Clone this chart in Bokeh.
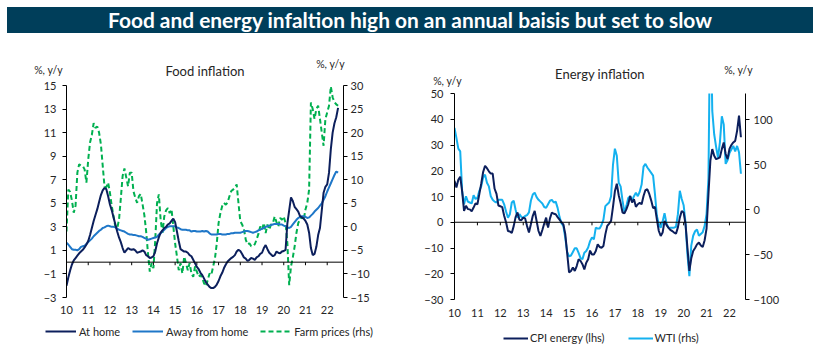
from bokeh.plotting import figure
from bokeh.models import Range1d, LinearAxis, FixedTicker, Span, Label, Legend, LegendItem, Div
from bokeh.layouts import column, row
from bokeh.embed import file_html
from bokeh.resources import INLINE

TITLE = "Food and energy infaltion high on an annual baisis but set to slow"
FONT = "Lato"

# ---------------- data (monthly, Jan 2010 - Jul 2022) ----------------
start_year = 2010
years = list(range(2010, 2023))
tick_labels = ["10", "11", "12", "13", "14", "15", "16", "17", "18", "19", "20", "21", "22"]

food_at_home = [
    -2.0, -1.3, -0.7, -0.2, 0.15, 0.35, 0.55, 0.75, 0.9, 1.05, 1.25, 1.5,
    1.8, 2.3, 2.9, 3.5, 4.0, 4.5, 5.1, 5.7, 6.1, 6.3, 6.2, 5.6,
    4.9, 4.4, 3.8, 3.2, 2.6, 2.1, 1.7, 1.2, 0.8, 1.0, 1.2, 1.1,
    1.05, 1.1, 1.0, 0.8, 0.85, 0.9, 1.0, 0.9, 0.6, 0.5, 0.35, 0.4,
    0.5, 0.9, 1.6, 2.1, 2.5, 2.7, 2.9, 3.0, 3.2, 3.3, 3.5, 3.7,
    3.4, 2.6, 1.8, 1.1, 1.0, 0.9, 0.9, 0.8, 0.6, 0.5, 0.2, -0.1,
    -0.4, -0.6, -0.9, -1.1, -1.4, -1.7, -1.9, -2.1, -2.2, -2.2, -2.1, -1.9,
    -1.6, -1.2, -0.9, -0.5, -0.2, 0.05, 0.2, 0.35, 0.45, 0.6, 0.9, 1.05,
    0.95, 0.7, 0.4, 0.3, 0.1, 0.2, 0.35, 0.3, 0.2, 0.4, 0.5, 0.7,
    0.8, 1.2, 1.45, 1.1, 0.8, 0.65, 0.5, 0.6, 0.9, 0.8, 0.75, 0.9,
    0.95, 1.05, 3.3, 4.4, 5.5, 5.2, 4.7, 4.5, 4.3, 3.9, 3.8, 3.7,
    3.5, 3.2, 2.5, 1.2, 0.6, 0.7, 1.3, 2.3, 2.9, 4.4, 5.9, 6.4,
    6.6, 7.6, 9.6, 11.0, 11.8, 12.3, 13.1,
]

food_away = [
    1.64, 1.5, 1.3, 1.1, 1.05, 1.05, 1.0, 1.1, 1.3, 1.35, 1.4, 1.55,
    1.7, 1.85, 2.0, 2.2, 2.35, 2.5, 2.65, 2.75, 2.9, 2.95, 3.05, 3.1,
    3.05, 3.0, 3.0, 2.95, 2.85, 2.75, 2.7, 2.65, 2.6, 2.5, 2.4, 2.35,
    2.35, 2.3, 2.3, 2.25, 2.2, 2.2, 2.15, 2.05, 2.0, 1.9, 1.95, 2.0,
    2.05, 2.1, 2.15, 2.35, 2.45, 2.6, 2.75, 2.9, 3.0, 3.05, 3.05, 3.05,
    3.05, 2.95, 2.9, 2.8, 2.75, 2.75, 2.75, 2.7, 2.7, 2.6, 2.65, 2.65,
    2.6, 2.6, 2.6, 2.65, 2.6, 2.65, 2.6, 2.45, 2.35, 2.35, 2.35, 2.35,
    2.4, 2.4, 2.35, 2.35, 2.35, 2.4, 2.4, 2.45, 2.45, 2.5, 2.5, 2.5,
    2.5, 2.55, 2.6, 2.65, 2.65, 2.6, 2.55, 2.5, 2.55, 2.6, 2.7, 2.75,
    2.85, 2.9, 3.0, 3.05, 3.1, 3.15, 3.2, 3.25, 3.25, 3.25, 3.2, 3.2,
    3.1, 3.05, 2.95, 2.9, 3.0, 3.2, 3.4, 3.6, 3.75, 3.85, 3.9, 3.9,
    3.85, 3.75, 3.8, 3.95, 4.1, 4.3, 4.45, 4.6, 4.8, 5.0, 5.3, 5.6,
    6.0, 6.35, 6.7, 7.05, 7.4, 7.7, 7.6,
]

farm_prices = [
    -1.0, 7.9, 7.4, 5.6, 3.0, 4.5, 11.5, 13.3, 13.0, 12.9, 12.2, 9.4,
    14.3, 17.9, 19.5, 22.0, 21.0, 21.3, 20.0, 17.5, 13.0, 8.5, 8.4, 9.4,
    7.2, 4.4, 2.2, 0.0, -0.3, 1.5, 6.0, 10.8, 12.4, 10.5, 8.6, 11.5,
    11.5, 7.5, 6.2, 5.1, 6.5, 7.0, 4.8, 2.5, -1.0, -5.6, -9.5, -7.7,
    -8.8, -3.0, 5.0, 6.9, 1.5, -1.3, 2.2, 3.5, 4.0, 2.9, 3.7, 0.1,
    -3.5, -6.3, -9.2, -7.7, -9.9, -6.3, -7.7, -9.2, -7.7, -9.9, -10.6, -8.4,
    -9.5, -10.6, -10.2, -10.9, -12.0, -12.6, -11.3, -9.9, -10.2, -8.4, -6.7, -3.5,
    0.8, 2.9, 4.4, 5.1, 4.7, 5.2, 6.5, 7.6, 7.9, 8.3, 9.0, 5.0,
    1.2, 0.5, -0.5, -2.7, -3.7, -3.5, -4.1, -4.1, -3.7, -2.7, -1.5, 0.1,
    -0.6, 0.8, -1.3, 0.5, -0.6, 0.5, 0.8, 2.2, 1.0, 0.1, 1.9, 1.5,
    2.2, 0.8, -3.5, -12.4, -8.4, -6.5, -4.2, -1.3, 0.8, 1.5, 2.2, 1.5,
    3.7, 5.1, 7.9, 26.4, 25.0, 22.9, 25.0, 25.7, 22.9, 20.0, 17.2, 22.9,
    24.3, 25.7, 29.8, 27.5, 26.5, 26.0, 25.7,
]

cpi_energy = [
    16.1, 13.5, 16.5, 17.7, 12.0, 4.4, 6.4, 5.1, 5.0, 4.3, 5.7, 7.3,
    7.0, 10.9, 15.0, 19.5, 21.9, 21.0, 19.8, 18.9, 18.9, 13.0, 11.0, 6.5,
    6.2, 5.9, 2.5, 0.0, -3.4, -3.6, -4.2, -1.5, 2.0, 3.8, 1.0, 0.8,
    1.8, 1.5, -1.5, -4.0, -0.8, 2.5, 4.4, 0.5, -3.4, -5.3, -3.0, -0.5,
    1.8, -2.1, 1.5, 3.8, 3.3, 3.1, 2.0, 1.0, 0.0, -0.8, -4.5, -12.0,
    -19.5, -18.9, -17.6, -18.9, -17.0, -14.4, -15.0, -16.3, -18.3, -15.7, -14.4, -11.0,
    -12.5, -12.5, -11.2, -8.6, -9.6, -9.9, -9.2, -4.7, -1.4, -0.5, 0.5, 6.0,
    12.0, 15.0, 10.5, 7.5, 3.8, 3.5, 5.0, 7.0, 10.2, 7.7, 8.9, 6.0,
    7.0, 7.5, 7.0, 10.2, 12.5, 12.8, 11.0, 8.5, 5.5, 6.0, 1.0, -3.4,
    -5.3, -4.0, 0.5, -1.0, -2.1, -3.0, -3.4, -4.0, -4.4, -2.0, 1.8, 4.4,
    3.8, -0.8, -10.0, -18.9, -14.0, -11.2, -10.0, -8.6, -7.9, -9.0, -9.6, -7.0,
    -2.5, 10.9, 23.9, 28.4, 25.8, 24.5, 24.8, 25.2, 28.4, 31.0, 26.5, 24.5,
    28.5, 30.0, 31.0, 31.6, 35.5, 41.4, 33.0,
]

wti = [
    91, 80, 68, 65, 21, 6, 15, 9, 8, 7, 16, 12,
    13, 21, 26, 36, 39, 30, 26, 15, 11, 9, 8, 11,
    11, 11, 6, -2, -9, -5, 8, 10, 0, -9, -5, -8,
    -9, -7, -6, -3, 10, 17, 19, 14, 11, 9, 7, 3,
    2, 6, 10, 11, 8, 9, 2, -8, -15, -18, -31, -47,
    -52, -51, -47, -43, -43, -48, -54, -55, -48, -46, -42, -35,
    -31, -33, -20, -21, -21, -17, -11, 4, 6, 8, 15, 50,
    68, 60, 30, 26, 10, -3, 4, 13, 15, 10, 15, 19,
    15, 20, 28, 48, 51, 47, 44, 41, 38, 17, -7, -16,
    -20, -13, -4, -15, -20, -20, -20, -20, -19, -5, 21, 12,
    5, -15, -50, -74, -40, -29, -24, -22, -29, -27, -25, -18,
    -5, 35, 240, 110, 84, 70, 58, 75, 104, 95, 51, 55,
    63, 67, 71, 65, 71, 64, 40,
]

months = [start_year + i / 12 for i in range(len(food_at_home))]

# colours / styles
NAVY = "#0c1f5c"
MID_BLUE = "#1f77c8"
GREEN = "#00b050"
LIGHT_BLUE = "#14b1ef"
TEXT = "#262626"
STYLE_HOME = dict(line_color=NAVY, line_width=2)
STYLE_AWAY = dict(line_color=MID_BLUE, line_width=2)
STYLE_FARM = dict(line_color=GREEN, line_width=2, line_dash="5 3")
STYLE_CPI = dict(line_color=NAVY, line_width=2)
STYLE_WTI = dict(line_color=LIGHT_BLUE, line_width=2)


def base_fig(x_end, y_rng, fw, fh, mb_left, mb_right, mb_top, mb_bottom, x_standoff):
    p = figure(frame_width=fw, frame_height=fh, x_range=Range1d(start_year, x_end), y_range=Range1d(*y_rng),
               output_backend="svg", toolbar_location=None,
               min_border_left=mb_left, min_border_right=mb_right,
               min_border_top=mb_top, min_border_bottom=mb_bottom)
    p.outline_line_color = None
    p.xgrid.visible = False
    p.ygrid.visible = False
    p.background_fill_color = "white"
    p.border_fill_color = "white"
    xa = p.xaxis[0]
    xa.ticker = FixedTicker(ticks=years)
    xa.major_label_overrides = {y: lab for y, lab in zip(years, tick_labels)}
    xa.axis_line_color = None
    xa.major_tick_line_color = None
    xa.major_tick_out = 0
    xa.major_tick_in = 0
    xa.minor_tick_line_color = None
    xa.minor_tick_out = 0
    xa.major_label_standoff = x_standoff
    xa.major_label_text_font = FONT
    xa.major_label_text_font_size = "11px"
    xa.major_label_text_color = TEXT
    return p


def style_y(ax, ticks, standoff):
    ax.ticker = FixedTicker(ticks=ticks)
    ax.axis_line_color = "black"
    ax.major_tick_line_color = "black"
    ax.major_tick_in = 0
    ax.major_tick_out = 4
    ax.minor_tick_line_color = None
    ax.major_label_standoff = standoff
    ax.major_label_text_font = FONT
    ax.major_label_text_font_size = "11px"
    ax.major_label_text_color = TEXT


def add_text(p, side, x, y, txt, x_off, y_off, size="10.5px"):
    p.add_layout(Label(x=x, y=y, x_offset=x_off, y_offset=y_off, text=txt, text_align="center",
                       text_baseline="middle", text_font=FONT, text_font_size=size, text_color=TEXT), side)


def zero_line(p, tick_len):
    p.segment(x0=years, y0=[0] * len(years), x1=years, y1=[-tick_len] * len(years),
              line_color="black", line_width=1)
    p.add_layout(Span(location=0, dimension="width", line_color="black", line_width=1))


def legend_fig(entries, loc, glyph_w, standoff, spacing):
    # a strip below each chart that carries only its key; the key's sample
    # renderers hold a point outside the strip's visible range
    lf = figure(frame_width=406, frame_height=24, x_range=Range1d(0, 1), y_range=Range1d(0, 1),
                x_axis_type=None, y_axis_type=None, output_backend="svg", toolbar_location=None,
                min_border_left=0, min_border_right=0, min_border_top=0, min_border_bottom=0)
    lf.outline_line_color = None
    lf.xgrid.visible = False
    lf.ygrid.visible = False
    items = []
    for label, style in entries:
        r = lf.line([-2, -1], [-2, -1], **style)
        items.append(LegendItem(label=label, renderers=[r]))
    lf.add_layout(Legend(items=items, orientation="horizontal", location=loc,
                         glyph_width=glyph_w, glyph_height=12, label_height=12, label_standoff=standoff,
                         spacing=spacing, padding=0, margin=0, border_line_color=None,
                         background_fill_alpha=0, label_text_font=FONT, label_text_font_size="11px",
                         label_text_color=TEXT))
    return lf


# ---------------- Food inflation ----------------
X1_END = 2022.75
p1 = base_fig(X1_END, (-3, 15), 277, 212, 66, 63, 47, 25, 8)
p1.extra_y_ranges = {"rhs": Range1d(-15, 30)}
p1.add_layout(LinearAxis(y_range_name="rhs"), "right")
style_y(p1.left[0], [-3, -1, 1, 3, 5, 7, 9, 11, 13, 15], 6)
style_y(p1.right[0], [-15, -10, -5, 0, 5, 10, 15, 20, 25, 30], 3)
zero_line(p1, 0.26)

p1.line(months, farm_prices, y_range_name="rhs", **STYLE_FARM)
p1.line(months, food_away, **STYLE_AWAY)
p1.line(months, food_at_home, **STYLE_HOME)

add_text(p1, "above", (start_year + X1_END) / 2, 15, "Food inflation", 0, 15, size="13px")
add_text(p1, "left", start_year, 15, "%, y/y", -18, 16)
add_text(p1, "right", X1_END, 15, "%, y/y", -13, 22)

# ---------------- Energy inflation ----------------
X2_END = 2022.7
p2 = base_fig(X2_END, (-30, 50), 291, 206, 48, 67, 55, 24, 9)
p2.extra_y_ranges = {"rhs": Range1d(-100, 129.4)}
p2.add_layout(LinearAxis(y_range_name="rhs"), "right")
style_y(p2.left[0], [-30, -20, -10, 0, 10, 20, 30, 40, 50], 7)
style_y(p2.right[0], [-100, -50, 0, 50, 100], 4)
zero_line(p2, 1.2)

p2.line(months, wti, y_range_name="rhs", **STYLE_WTI)
p2.line(months, cpi_energy, **STYLE_CPI)

add_text(p2, "above", (start_year + X2_END) / 2, 50, "Energy inflation", 0, 20, size="13px")
add_text(p2, "above", start_year, 50, "%, y/y", -7, 13)
add_text(p2, "right", X2_END, 50, "%, y/y", -7, 24)

# ---------------- legends ----------------
leg1 = legend_fig([("At home", STYLE_HOME), ("Away from home", STYLE_AWAY), ("Farm prices (rhs)", STYLE_FARM)],
                  (45, 9.5), 31, 3, 12)
leg2 = legend_fig([("CPI energy (lhs)", STYLE_CPI), ("WTI (rhs)", STYLE_WTI)],
                  (97, 3), 25, 2, 23)

# ---------------- title bar ----------------
title = Div(text=('<div style="margin:2px 0 0 2px;width:806px;height:26px;background:#003e5a;'
                  'color:#ffffff;font-family:Lato;font-weight:bold;font-size:20.9px;line-height:26px;'
                  'text-align:center;white-space:nowrap;">' + TITLE + '</div>'),
            width=812, height=28)

layout = column(title, row(column(p1), column(p2)), row(column(leg1), column(leg2)))
open("out.html", "w").write(file_html(layout, INLINE))
